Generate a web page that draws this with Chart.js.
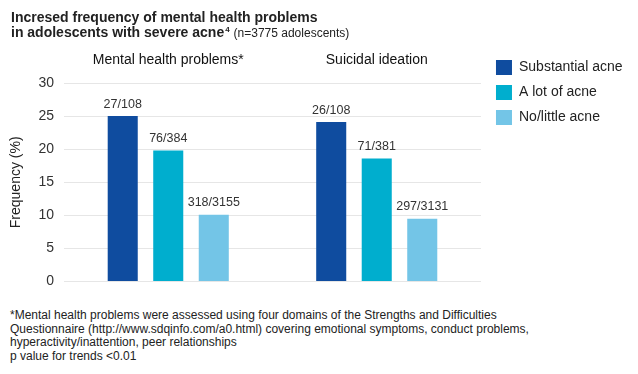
<!DOCTYPE html>
<html>
<head>
<meta charset="utf-8">
<script src="https://cdn.jsdelivr.net/npm/chart.js@4/dist/chart.umd.min.js"></script>
<style>
html,body{margin:0;padding:0;background:#fff;}
body{width:638px;height:374px;position:relative;overflow:hidden;font-family:"Liberation Sans",Arial,sans-serif;color:#222;}
#title{position:absolute;left:11px;top:10px;font-size:14px;font-weight:bold;line-height:15px;color:#222;white-space:nowrap;}
#title sup{font-size:8px;line-height:0;vertical-align:top;position:relative;top:5px;margin-left:1px;}
#title .sub{font-weight:normal;font-size:12px;}
#wrap{position:absolute;left:0;top:0;width:638px;height:300px;}
#foot{position:absolute;left:10px;top:309px;font-size:12px;line-height:13.5px;color:#222;white-space:nowrap;}
</style>
</head>
<body>
<div id="wrap"><canvas id="c" width="638" height="300"></canvas></div>
<div id="title">Incresed frequency of mental health problems<br>in adolescents with severe acne<sup>4</sup> <span class="sub">(n=3775 adolescents)</span></div>
<div id="foot">*Mental health problems were assessed using four domains of the Strengths and Difficulties<br>Questionnaire (http://www.sdqinfo.com/a0.html) covering emotional symptoms, conduct problems,<br>hyperactivity/inattention, peer relationships<br>p value for trends &lt;0.01</div>
<script>
const categories = ['Mental health problems*', 'Suicidal ideation'];
const seriesNames = ['Substantial acne', 'A lot of acne', 'No/little acne'];
const substantialAcne = [25.0, 24.1];
const aLotOfAcne = [19.8, 18.6];
const noLittleAcne = [10.1, 9.5];
const substantialLabels = ['27/108', '26/108'];
const aLotLabels = ['76/384', '71/381'];
const noLittleLabels = ['318/3155', '297/3131'];
const yMin = 0, yMax = 30, yStep = 5;
const seriesColors = ['#0F4C9F', '#00AECE', '#73C5E7'];

const FONT = '"Liberation Sans", Arial, sans-serif';
Chart.defaults.font.family = FONT;

const barLabels = {
  id: 'barLabels',
  afterDatasetsDraw(chart) {
    const ctx = chart.ctx;
    ctx.save();
    ctx.font = '12.5px ' + FONT;
    ctx.fillStyle = '#333';
    ctx.textAlign = 'center';
    ctx.textBaseline = 'middle';
    chart.data.datasets.forEach((ds, i) => {
      chart.getDatasetMeta(i).data.forEach((bar, j) => {
        ctx.fillText(ds.countLabels[j], bar.x, bar.y - 12);
      });
    });
    ctx.restore();
  }
};

// leave a small gap between the plot area and the legend
const legendGap = {
  id: 'legendGap',
  afterLayout(chart) {
    const lg = chart.legend;
    if (lg) { lg.left += 5; lg.right += 5; }
  }
};

const values = [substantialAcne, aLotOfAcne, noLittleAcne];
const counts = [substantialLabels, aLotLabels, noLittleLabels];

new Chart(document.getElementById('c'), {
  type: 'bar',
  data: {
    labels: categories,
    datasets: seriesNames.map((name, i) => ({
      label: name,
      data: values[i],
      countLabels: counts[i],
      backgroundColor: seriesColors[i],
      borderColor: seriesColors[i],
      borderWidth: 0,
      categoryPercentage: 0.655,
      barPercentage: 0.66
    }))
  },
  options: {
    responsive: false,
    animation: false,
    devicePixelRatio: 1,
    layout: { padding: { top: 50, right: 10.5, bottom: 14, left: 0 } },
    plugins: {
      tooltip: { enabled: false },
      legend: {
        position: 'right',
        align: 'start',
        labels: {
          boxWidth: 16,
          boxHeight: 15,
          padding: 10,
          color: '#222',
          font: { size: 14, family: FONT }
        }
      }
    },
    scales: {
      x: {
        position: 'top',
        grid: { display: false, drawTicks: false },
        border: { display: false },
        ticks: { color: '#111', font: { size: 14, family: FONT }, padding: 14 },
        afterFit: s => { s.height = 33; }
      },
      y: {
        position: 'left',
        min: yMin,
        max: yMax,
        ticks: { stepSize: yStep, color: '#333', font: { size: 14, family: FONT }, padding: 10 },
        grid: { color: '#e6e6e6', drawTicks: false },
        border: { display: false },
        title: { display: true, text: 'Frequency (%)', color: '#222', font: { size: 14, family: FONT }, padding: { top: 8, bottom: 0 } },
        afterFit: s => { s.width = 64; }
      }
    }
  },
  plugins: [barLabels, legendGap]
});
</script>
</body>
</html>
